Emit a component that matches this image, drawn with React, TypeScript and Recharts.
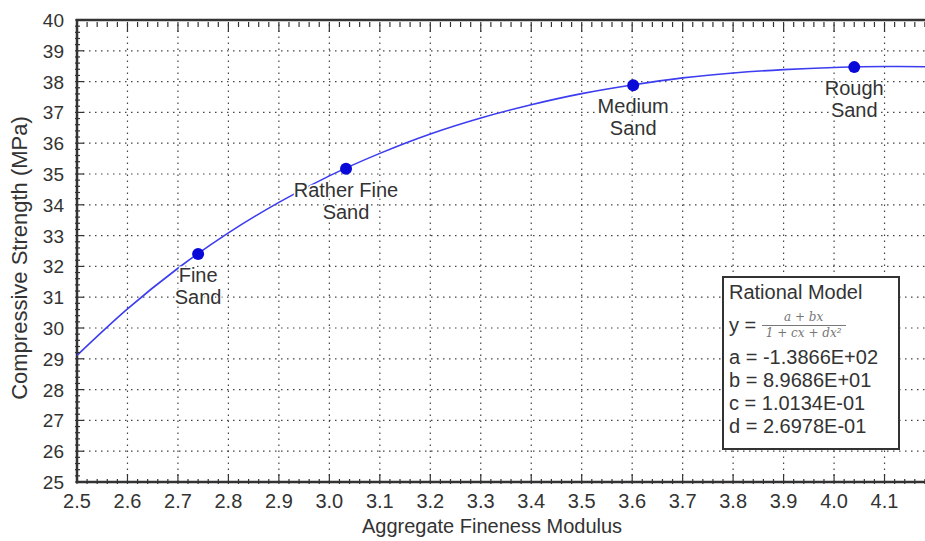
import {
  ComposedChart,
  Line,
  ReferenceArea,
  ReferenceLine,
  Scatter,
  XAxis,
  YAxis,
} from "recharts";

const xTicks = [2.5, 2.6, 2.7, 2.8, 2.9, 3.0, 3.1, 3.2, 3.3, 3.4, 3.5, 3.6, 3.7, 3.8, 3.9, 4.0, 4.1, 4.2];
const yTicks = [25, 26, 27, 28, 29, 30, 31, 32, 33, 34, 35, 36, 37, 38, 39, 40];

// fitted curve
const curveX = [2.5, 2.6, 2.7, 2.8, 2.9, 3.0, 3.1, 3.2, 3.3, 3.4, 3.5, 3.6, 3.7, 3.8, 3.9, 4.0, 4.1, 4.2];
const curveY = [29.11, 30.62, 31.94, 33.09, 34.08, 34.94, 35.67, 36.3, 36.82, 37.25, 37.61, 37.89, 38.12, 38.28, 38.39, 38.46, 38.49, 38.48];

const sandNames = ["Fine|Sand", "Rather Fine|Sand", "Medium|Sand", "Rough|Sand"];
const sandX = [2.74, 3.033, 3.602, 4.04];
const sandY = [32.4, 35.17, 37.88, 38.47];

const curve = curveX.map((x, i) => ({ x, y: curveY[i] }));
const points = sandX.map((x, i) => ({ x, y: sandY[i], name: sandNames[i] }));

// minor ticks: 4 between each major
const subdivide = (major: number[], n: number) => {
  const out: number[] = [];
  for (let i = 0; i < major.length - 1; i++) {
    const step = (major[i + 1] - major[i]) / n;
    for (let k = 0; k < n; k++) out.push(+(major[i] + k * step).toFixed(4));
  }
  out.push(major[major.length - 1]);
  return out;
};
const xAllTicks = subdivide(xTicks, 5);
const yAllTicks = subdivide(yTicks, 5);

const PLOT_H = 462;
const INK = "#333";
const FONT = "'Liberation Sans', Arial, sans-serif";

const isMajor = (v: number, scale: number) =>
  Math.abs(v * scale - Math.round(v * scale)) < 1e-6;

const XTick = (props: any) => {
  const { x, y, payload } = props;
  const v = payload.value as number;
  const major = isMajor(v, 10);
  const len = major ? 10 : 5;
  return (
    <g>
      <line x1={x} y1={y} x2={x} y2={y - len} stroke={INK} strokeWidth={1.2} />
      <line x1={x} y1={y - PLOT_H} x2={x} y2={y - PLOT_H + len} stroke={INK} strokeWidth={1.2} />
      {major && v < 4.15 && (
        <text x={x} y={y + 24} textAnchor="middle" fontSize={20} fill={INK} fontFamily={FONT}>
          {v.toFixed(1)}
        </text>
      )}
    </g>
  );
};

const YTick = (props: any) => {
  const { x, y, payload } = props;
  const v = payload.value as number;
  const major = isMajor(v, 1);
  const len = major ? 9 : 5;
  return (
    <g>
      <line x1={x} y1={y} x2={x + len} y2={y} stroke={INK} strokeWidth={1.2} />
      {major && (
        <text x={x - 11} y={y + 7} textAnchor="end" fontSize={19} fill={INK} fontFamily={FONT}>
          {v}
        </text>
      )}
    </g>
  );
};

const SandDot = (props: any) => {
  const { cx, cy, payload } = props;
  const lines = (payload.name as string).split("|");
  return (
    <g>
      <circle cx={cx} cy={cy} r={6} fill="#0a0ad8" />
      {lines.map((t, i) => (
        <text
          key={i}
          x={cx}
          y={cy + 28 + i * 22}
          textAnchor="middle"
          fontSize={20}
          fill={INK}
          fontFamily={FONT}
          stroke="#fff"
          strokeWidth={3}
          paintOrder="stroke"
        >
          {t}
        </text>
      ))}
    </g>
  );
};

export default function App() {
  return (
    <div
      style={{
        position: "absolute",
        left: 0,
        top: 0,
        width: 925,
        height: 541,
        overflow: "hidden",
        background: "#fff",
        fontFamily: FONT,
        color: INK,
      }}
    >
      <ComposedChart
        width={940}
        height={541}
        margin={{ top: 20, right: 5, bottom: 0, left: 0 }}
      >
        <XAxis
          dataKey="x"
          type="number"
          domain={[2.5, 4.2]}
          ticks={xAllTicks}
          interval={0}
          tickSize={0}
          tickLine={false}
          axisLine={false}
          tick={<XTick />}
          height={59}
          allowDataOverflow
        />
        <YAxis
          type="number"
          domain={[25, 40]}
          ticks={yAllTicks}
          interval={0}
          tickSize={0}
          tickLine={false}
          axisLine={false}
          tick={<YTick />}
          width={77}
          allowDataOverflow
        />
        {xTicks.slice(1).map((v) => (
          <ReferenceLine key={"vx" + v} x={v} stroke="#444" strokeDasharray="1.5 4.5" strokeWidth={1.2} />
        ))}
        {yTicks.slice(1, -1).map((v) => (
          <ReferenceLine key={"hy" + v} y={v} stroke="#444" strokeDasharray="1.5 4.5" strokeWidth={1.2} />
        ))}
        <ReferenceArea
          x1={2.5}
          x2={4.2}
          y1={25}
          y2={40}
          fill="none"
          stroke={INK}
          strokeWidth={2.5}
          ifOverflow="visible"
        />
        <Line
          data={curve}
          dataKey="y"
          type="monotone"
          stroke="#3c3cf0"
          strokeWidth={1.6}
          dot={false}
          activeDot={false}
          isAnimationActive={false}
        />
        <Scatter
          data={points}
          dataKey="y"
          shape={<SandDot />}
          isAnimationActive={false}
        />
      </ComposedChart>

      <div
        style={{
          position: "absolute",
          left: 20,
          top: 258,
          transform: "translate(-50%, -50%) rotate(-90deg)",
          fontSize: 22,
          whiteSpace: "nowrap",
        }}
      >
        Compressive Strength (MPa)
      </div>
      <div
        style={{
          position: "absolute",
          left: 492,
          top: 526,
          transform: "translate(-50%, -50%)",
          fontSize: 20,
          whiteSpace: "nowrap",
        }}
      >
        Aggregate Fineness Modulus
      </div>

      <div
        style={{
          position: "absolute",
          left: 722,
          top: 276,
          width: 178,
          height: 174,
          border: "2px solid #333",
          background: "#fff",
          fontSize: 20,
          lineHeight: "23px",
          padding: "3px 0 0 5px",
          boxSizing: "border-box",
        }}
      >
        <div>Rational Model</div>
        <div style={{ display: "flex", alignItems: "center", height: 42 }}>
          <span>y =&nbsp;</span>
          <span
            style={{
              display: "inline-flex",
              flexDirection: "column",
              alignItems: "center",
              fontFamily: "'DejaVu Serif', 'Liberation Serif', serif",
              fontStyle: "italic",
              fontSize: 12,
              lineHeight: "15px",
              color: "#777",
            }}
          >
            <span style={{ padding: "0 6px" }}>a + bx</span>
            <span style={{ borderTop: "1px solid #777", padding: "0 4px" }}>
              1 + cx + dx²
            </span>
          </span>
        </div>
        <div>a = -1.3866E+02</div>
        <div>b = 8.9686E+01</div>
        <div>c = 1.0134E-01</div>
        <div>d = 2.6978E-01</div>
      </div>
    </div>
  );
}
